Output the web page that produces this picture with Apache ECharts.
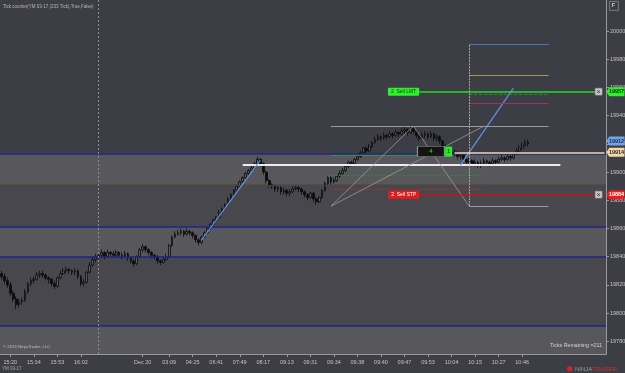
<!DOCTYPE html>
<html><head><meta charset="utf-8">
<script src="https://cdn.jsdelivr.net/npm/echarts@6/dist/echarts.min.js"></script>
<style>html,body{margin:0;padding:0;background:#3d3d45;}#c{width:625px;height:373px;}</style>
</head><body><div id="c"></div>
<script>
// ---- data ----
const barCount = 206;
const tickBars   = [3, 11, 19, 27, 48, 57, 65, 73, 81, 89, 97, 105, 113, 121, 129, 137, 145, 153, 161, 169, 177];
const tickLabels = ['15:20','15:34','15:53','16:02','Dec 20','03:09','04:25','06:41','07:49','08:17','09:13','09:31','09:34','09:38','09:40','09:47','09:53','10:04','10:15','10:27','10:46'];
const priceTicks = [19780,19800,19820,19840,19860,19880,19900,19920,19940,19960,19980,20000];
// [open, close, low, high]
const ohlc = [
[19828,19826,19824,19830],[19826,19823,19821,19828],[19823,19820,19818,19825],[19820,19814,19812,19822],[19814,19810,19808,19816],
[19810,19806,19803,19812],[19806,19808,19804,19810],[19808,19809,19806,19811],[19809,19815,19808,19817],[19815,19821,19814,19822],
[19821,19823,19819,19825],[19823,19824,19821,19826],[19824,19827,19823,19829],[19827,19828,19825,19830],[19828,19827,19825,19830],
[19827,19825,19823,19828],[19825,19824,19821,19826],[19824,19821,19819,19825],[19821,19819,19817,19823],[19819,19825,19818,19826],
[19825,19828,19824,19830],[19828,19830,19827,19832],[19830,19831,19828,19833],[19831,19830,19828,19832],[19830,19829,19827,19831],
[19829,19830,19827,19832],[19830,19826,19824,19831],[19826,19821,19819,19827],[19821,19822,19819,19824],[19822,19829,19821,19830],
[19829,19834,19828,19836],[19834,19838,19833,19840],[19838,19840,19836,19842],[19840,19841,19838,19843],[19841,19843,19839,19845],
[19843,19840,19838,19844],[19840,19843,19839,19845],[19843,19842,19840,19844],[19842,19841,19839,19844],[19841,19843,19840,19845],
[19843,19841,19839,19844],[19841,19840,19838,19843],[19840,19842,19839,19844],[19842,19839,19837,19843],[19839,19837,19835,19840],
[19837,19835,19833,19838],[19835,19840,19834,19841],[19840,19845,19839,19846],[19845,19847,19843,19849],[19847,19845,19843,19848],
[19845,19843,19841,19846],[19843,19841,19839,19844],[19841,19840,19838,19842],[19840,19837,19835,19841],[19837,19836,19834,19838],
[19836,19838,19835,19840],[19838,19840,19837,19842],[19840,19848,19839,19849],[19848,19854,19847,19855],[19854,19856,19853,19858],
[19856,19857,19855,19859],[19857,19858,19855,19860],[19858,19856,19854,19859],[19856,19858,19855,19860],[19858,19857,19855,19859],
[19857,19855,19853,19858],[19855,19852,19850,19856],[19852,19850,19848,19853],[19850,19854,19849,19855],[19854,19857,19853,19858],
[19857,19860,19856,19861],[19860,19863,19859,19864],[19863,19866,19862,19867],[19866,19868,19864,19869],[19868,19871,19867,19873],
[19871,19874,19870,19875],[19874,19877,19873,19878],[19877,19881,19876,19882],[19881,19884,19880,19885],[19884,19887,19882,19888],
[19887,19890,19885,19891],[19890,19893,19889,19894],[19893,19896,19892,19897],[19896,19899,19895,19900],[19899,19901,19897,19902],
[19901,19903,19900,19905],[19903,19906,19902,19907],[19906,19909,19905,19911],[19909,19906,19904,19910],[19906,19900,19898,19907],
[19900,19894,19892,19901],[19894,19891,19889,19895],[19891,19890,19888,19892],[19890,19888,19886,19891],[19888,19889,19886,19891],
[19889,19886,19884,19890],[19886,19887,19884,19889],[19887,19885,19883,19888],[19885,19886,19883,19888],[19886,19888,19885,19890],
[19888,19889,19887,19891],[19889,19888,19886,19890],[19888,19886,19884,19889],[19886,19884,19882,19887],[19884,19882,19880,19885],
[19882,19885,19881,19886],[19885,19881,19879,19886],[19881,19879,19877,19882],[19879,19882,19878,19883],[19882,19887,19881,19888],
[19887,19892,19886,19893],[19892,19896,19891,19897],[19896,19893,19891,19897],[19893,19894,19892,19896],[19894,19897,19893,19898],
[19897,19899,19896,19901],[19899,19901,19898,19903],[19901,19904,19900,19905],[19904,19907,19903,19908],[19907,19906,19904,19908],
[19906,19909,19905,19910],[19909,19911,19908,19913],[19911,19914,19910,19915],[19914,19917,19913,19918],[19917,19915,19913,19918],
[19915,19918,19914,19920],[19918,19921,19917,19922],[19921,19923,19920,19925],[19923,19925,19922,19927],[19925,19924,19922,19926],
[19924,19926,19923,19928],[19926,19925,19923,19927],[19925,19927,19924,19929],[19927,19926,19924,19928],[19926,19928,19925,19930],
[19928,19927,19925,19929],[19927,19929,19926,19931],[19929,19930,19927,19932],[19930,19928,19926,19931],[19928,19931,19927,19933],
[19931,19929,19927,19933],[19929,19926,19924,19930],[19926,19924,19922,19927],[19924,19926,19923,19928],[19926,19927,19924,19929],
[19927,19925,19923,19928],[19925,19927,19924,19929],[19927,19924,19922,19928],[19924,19925,19922,19927],[19925,19922,19920,19926],
[19922,19919,19917,19923],[19919,19916,19914,19920],[19916,19914,19912,19917],[19914,19913,19911,19916],[19913,19914,19911,19916],
[19914,19911,19909,19915],[19911,19912,19909,19914],[19912,19909,19907,19913],[19909,19907,19905,19910],[19907,19908,19905,19910],
[19908,19906,19904,19909],[19906,19907,19904,19909],[19907,19905,19903,19908],[19905,19906,19903,19908],[19906,19908,19905,19910],
[19908,19907,19905,19909],[19907,19906,19904,19908],[19906,19908,19905,19910],[19908,19907,19905,19909],[19907,19909,19906,19911],
[19909,19910,19908,19912],[19910,19909,19907,19911],[19909,19911,19908,19913],[19911,19910,19908,19912],[19910,19913,19909,19914],
[19913,19915,19912,19917],[19915,19917,19914,19919],[19917,19919,19916,19921],[19919,19921,19918,19923],[19921,19920,19918,19923]
];
const navyLevels = [19913, 19861, 19840, 19791];
const oliveLevel = 19891;
const lightBands = [[19891, 19913], [19840, 19861], [19771, 19791]];
const midBands = [[19861, 19891], [19791, 19840]];
const sessionBreakBar = 33;
const whiteLine = [82, 190, 19905];
const trendLines = [[68, 19851.7, 88, 19908.4], [156, 19904.9, 174, 19959.5]];
const fibRightBars = [159, 186];
const fibRightLevels = [19990.8, 19968.8, 19955.3, 19948.9];
const fibTop = 19932.6, fibBottom = 19875.8;
const fibLeftBars = [112, 164];
const fibLeftLevels = [19912, 19897.8, 19887.9];
const diagonals = [[112, 19875.8, 140, 19932.6], [140, 19932.6, 159, 19875.8], [112, 19875.8, 164, 19932.6]];
const sellLimit = 19957, sellStop = 19884, avgPrice = 19914, lastPriceTagPos = 19922;
const orderBars = [142, 202];
const positionBar = [146, 152];

// ---- build ----
const categories = new Array(barCount).fill('');
tickBars.forEach((b, k) => categories[b] = tickLabels[k]);
const FONT = '"Liberation Sans", Arial, sans-serif';

function seg(i1, p1, i2, p2, color, width, type) {
  return [{coord: [i1, p1], lineStyle: {color, width, type: type || 'solid'}}, {coord: [i2, p2]}];
}
function tag(price, text, bg, fg) {
  return {coord: [barCount - 1, price], symbol: 'path://M0,5 L3,0 L20,0 L20,10 L3,10 Z', symbolSize: [18, 9],
    symbolOffset: [11, 0], itemStyle: {color: bg},
    label: {show: true, position: 'inside', offset: [1, 0], formatter: text, color: fg, fontSize: 5.5, fontWeight: 'bold', fontFamily: FONT}};
}
function xIcon(price) {
  return {coord: [barCount - 3, price], symbol: 'rect', symbolSize: [7, 7], itemStyle: {color: '#c8c8c8', borderColor: '#888', borderWidth: 0.5},
    label: {show: true, position: 'inside', formatter: '×', color: '#333', fontSize: 7, fontFamily: FONT}};
}

const bgAreas = [];
lightBands.forEach(b => bgAreas.push([{yAxis: b[0], itemStyle: {color: '#57575c'}}, {yAxis: b[1]}]));
midBands.forEach(b => bgAreas.push([{yAxis: b[0], itemStyle: {color: '#47474d'}}, {yAxis: b[1]}]));
const bgLines = navyLevels.map(v => ({yAxis: v, lineStyle: {color: '#23238f', width: 1.5, type: 'solid'}}));
bgLines.push({yAxis: oliveLevel, lineStyle: {color: '#4a4a30', width: 1, type: 'solid'}});
bgLines.push({xAxis: sessionBreakBar, lineStyle: {color: '#8c8c8c', width: 1, type: [2, 2]}});

const draw = [];
draw.push(seg(whiteLine[0], whiteLine[2], whiteLine[1], whiteLine[2], '#ececec', 2.2));
trendLines.forEach(t => draw.push(seg(t[0], t[1], t[2], t[3], '#5f93e6', 1.2)));
const fibColors = ['#4a78b4', '#a29c52', '#2e8c2e', '#a0306c'];
const fibTypes = ['solid', 'solid', [3, 2], 'solid'];
fibRightLevels.forEach((v, k) => draw.push(seg(fibRightBars[0], v, fibRightBars[1], v, fibColors[k], 1, fibTypes[k])));
draw.push(seg(fibLeftBars[0], fibTop, fibRightBars[1], fibTop, '#9a9a9a', 1));
draw.push(seg(fibRightBars[0], fibBottom, fibRightBars[1], fibBottom, '#9a9a9a', 1));
draw.push(seg(fibRightBars[0], fibBottom, fibRightBars[0], fibRightLevels[0], '#a8a8a8', 1, [2, 1]));
const leftColors = ['#2e9a2e', '#2e8c2e', '#b02a3a'];
const leftTypes = ['solid', [2, 2], [2, 2]];
fibLeftLevels.forEach((v, k) => draw.push(seg(fibLeftBars[0], v, k === 0 ? positionBar[0] : fibLeftBars[1], v, leftColors[k], 1, leftTypes[k])));
diagonals.forEach(d => draw.push(seg(d[0], d[1], d[2], d[3], '#9c9c9c', 0.8)));
draw.push(seg(positionBar[1] + 2, avgPrice, barCount - 1, avgPrice, '#f2d8ae', 1.5));
// order lines
const sl = seg(orderBars[0], sellLimit, orderBars[1], sellLimit, '#22dd22', 1.6);
sl[0].label = {show: true, position: 'start', distance: 0, formatter: '2  Sell LMT', backgroundColor: '#2ef02e',
  color: '#0b3b0b', fontSize: 5, fontFamily: FONT, padding: [2, 3, 1, 3], borderRadius: 1};
draw.push(sl);
const ss = seg(orderBars[0], sellStop, orderBars[1], sellStop, '#cc1414', 1.6);
ss[0].label = {show: true, position: 'start', distance: 0, formatter: '2  Sell STP', backgroundColor: '#e41c1c',
  color: '#ffffff', fontSize: 5, fontFamily: FONT, padding: [2, 3, 1, 3], borderRadius: 1};
draw.push(ss);

const points = [
  tag(sellLimit, '19957', '#2ef02e', '#0b2b0b'),
  tag(sellStop, '19884', '#ee1c1c', '#ffffff'),
  tag(avgPrice, '19914', '#f4d6aa', '#2a2a2a'),
  tag(lastPriceTagPos, '19912', '#74a2e8', '#1a2a4a'),
  xIcon(sellLimit), xIcon(sellStop),
  {coord: [positionBar[0], avgPrice + 0.5], symbol: 'rect', symbolSize: [27, 10], itemStyle: {color: '#141414', borderColor: '#8a8a8a', borderWidth: 0.8},
    label: {show: true, position: 'inside', formatter: '4', color: '#36e036', fontSize: 6, fontFamily: FONT}},
  {coord: [positionBar[1], avgPrice + 0.5], symbol: 'rect', symbolSize: [7, 10], itemStyle: {color: '#26ee26'},
    label: {show: true, position: 'inside', formatter: '1', color: '#0a0a0a', fontSize: 6, fontFamily: FONT}}
];

const chart = echarts.init(document.getElementById('c'), null, {renderer: 'canvas'});
chart.setOption({
  backgroundColor: '#3d3d45',
  animation: false,
  grid: {left: 0, right: 19, top: 0, bottom: 19, containLabel: false, outerBoundsMode: 'none'},
  xAxis: {
    type: 'category', data: categories, boundaryGap: true,
    axisLine: {show: true, lineStyle: {color: '#9a9a9a', width: 1}},
    axisTick: {show: true, length: 3, lineStyle: {color: '#9a9a9a'}, interval: (i, v) => v !== '', alignWithLabel: true},
    axisLabel: {show: true, interval: 0, color: '#c4c4c4', fontSize: 5.5, fontFamily: FONT, margin: 5, hideOverlap: false},
    splitLine: {show: false}
  },
  yAxis: {
    type: 'value', position: 'right', min: 19771, max: 20022, scale: true,
    axisLine: {show: true, lineStyle: {color: '#9a9a9a', width: 1}},
    axisTick: {show: true, length: 3, lineStyle: {color: '#9a9a9a'}, customValues: priceTicks},
    axisLabel: {show: true, color: '#c4c4c4', fontSize: 5.5, fontFamily: FONT, margin: 4, customValues: priceTicks,
      formatter: v => String(v)},
    splitLine: {show: false}
  },
  series: [
    {type: 'line', z: 1, data: [], symbol: 'none', silent: true,
      markArea: {silent: true, data: bgAreas},
      markLine: {silent: true, symbol: 'none', label: {show: false}, data: bgLines}},
    {type: 'candlestick', z: 3, data: ohlc, barWidth: 2.2,
      itemStyle: {color: '#5c5c61', color0: '#0c0c0c', borderColor: '#0c0c0c', borderColor0: '#0c0c0c', borderWidth: 0.8}},
    {type: 'line', z: 5, data: [], symbol: 'none', clip: false, silent: true,
      markLine: {silent: true, symbol: 'none', label: {show: false}, data: draw},
      markPoint: {silent: true, data: points}}
  ],
  graphic: [
    {type: 'text', left: 3, top: 4, z: 100, style: {text: 'Tick counter(YM 03-17 (233 Tick),True,False)', fill: '#b8b8b8', font: '4.5px ' + FONT}},
    {type: 'text', left: 3, top: 345, z: 100, style: {text: '© 2016 NinjaTrader, LLC', fill: '#c0c0c0', font: '4.3px ' + FONT}},
    {type: 'text', right: 23, top: 343, z: 100, style: {text: 'Ticks Remaining =211', fill: '#d4d4d4', font: '5.3px ' + FONT}},
    {type: 'text', left: 2, top: 366, z: 100, style: {text: 'YM 03-17', fill: '#a8a8a8', font: '4.5px ' + FONT}},
    {type: 'circle', left: 567, top: 366, z: 100, shape: {r: 2.8}, style: {fill: '#c82828'}},
    {type: 'text', left: 575, top: 366, z: 100, style: {
      text: '{a|NINJA}{b|TRADER}', rich: {a: {fill: '#9a9a9a', font: '6px ' + FONT}, b: {fill: '#d03232', font: '6px ' + FONT}}}},
    {type: 'rect', left: 609, top: 1, z: 100, shape: {width: 9, height: 9}, style: {fill: '#3d3d45', stroke: '#8a8a8a', lineWidth: 0.8}},
    {type: 'text', left: 611.5, top: 2.5, z: 101, style: {text: 'F', fill: '#c8c8c8', font: 'bold 6px ' + FONT}}
  ]
});
</script></body></html>
